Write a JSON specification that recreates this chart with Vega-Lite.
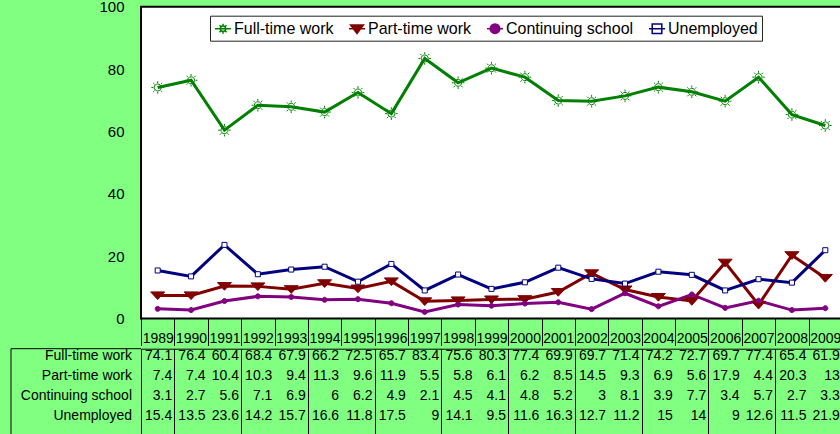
{
  "$schema": "https://vega.github.io/schema/vega-lite/v6.json",
  "background": "#80ff80",
  "padding": {"left": 9, "top": -1.3, "right": 0, "bottom": 0},
  "spacing": 0,
  "config": {
    "font": "Liberation Sans",
    "view": {"stroke": null},
    "legend": {"orient": "none", "legendX": 69, "legendY": 9, "direction": "horizontal", "columns": 4, "labelFontSize": 16, "labelColor": "black", "labelLimit": 300, "fillColor": "white", "strokeColor": "#222222", "padding": 4, "columnPadding": 12, "labelOffset": 2, "symbolSize": 256, "symbolStrokeWidth": 1.5}
  },
  "datasets": {
    "main": [
      {"year": 1989, "series": "Full-time work", "value": 74.1},
      {"year": 1990, "series": "Full-time work", "value": 76.4},
      {"year": 1991, "series": "Full-time work", "value": 60.4},
      {"year": 1992, "series": "Full-time work", "value": 68.4},
      {"year": 1993, "series": "Full-time work", "value": 67.9},
      {"year": 1994, "series": "Full-time work", "value": 66.2},
      {"year": 1995, "series": "Full-time work", "value": 72.5},
      {"year": 1996, "series": "Full-time work", "value": 65.7},
      {"year": 1997, "series": "Full-time work", "value": 83.4},
      {"year": 1998, "series": "Full-time work", "value": 75.6},
      {"year": 1999, "series": "Full-time work", "value": 80.3},
      {"year": 2000, "series": "Full-time work", "value": 77.4},
      {"year": 2001, "series": "Full-time work", "value": 69.9},
      {"year": 2002, "series": "Full-time work", "value": 69.7},
      {"year": 2003, "series": "Full-time work", "value": 71.4},
      {"year": 2004, "series": "Full-time work", "value": 74.2},
      {"year": 2005, "series": "Full-time work", "value": 72.7},
      {"year": 2006, "series": "Full-time work", "value": 69.7},
      {"year": 2007, "series": "Full-time work", "value": 77.4},
      {"year": 2008, "series": "Full-time work", "value": 65.4},
      {"year": 2009, "series": "Full-time work", "value": 61.9},
      {"year": 1989, "series": "Part-time work", "value": 7.4},
      {"year": 1990, "series": "Part-time work", "value": 7.4},
      {"year": 1991, "series": "Part-time work", "value": 10.4},
      {"year": 1992, "series": "Part-time work", "value": 10.3},
      {"year": 1993, "series": "Part-time work", "value": 9.4},
      {"year": 1994, "series": "Part-time work", "value": 11.3},
      {"year": 1995, "series": "Part-time work", "value": 9.6},
      {"year": 1996, "series": "Part-time work", "value": 11.9},
      {"year": 1997, "series": "Part-time work", "value": 5.5},
      {"year": 1998, "series": "Part-time work", "value": 5.8},
      {"year": 1999, "series": "Part-time work", "value": 6.1},
      {"year": 2000, "series": "Part-time work", "value": 6.2},
      {"year": 2001, "series": "Part-time work", "value": 8.5},
      {"year": 2002, "series": "Part-time work", "value": 14.5},
      {"year": 2003, "series": "Part-time work", "value": 9.3},
      {"year": 2004, "series": "Part-time work", "value": 6.9},
      {"year": 2005, "series": "Part-time work", "value": 5.6},
      {"year": 2006, "series": "Part-time work", "value": 17.9},
      {"year": 2007, "series": "Part-time work", "value": 4.4},
      {"year": 2008, "series": "Part-time work", "value": 20.3},
      {"year": 2009, "series": "Part-time work", "value": 13},
      {"year": 1989, "series": "Continuing school", "value": 3.1},
      {"year": 1990, "series": "Continuing school", "value": 2.7},
      {"year": 1991, "series": "Continuing school", "value": 5.6},
      {"year": 1992, "series": "Continuing school", "value": 7.1},
      {"year": 1993, "series": "Continuing school", "value": 6.9},
      {"year": 1994, "series": "Continuing school", "value": 6},
      {"year": 1995, "series": "Continuing school", "value": 6.2},
      {"year": 1996, "series": "Continuing school", "value": 4.9},
      {"year": 1997, "series": "Continuing school", "value": 2.1},
      {"year": 1998, "series": "Continuing school", "value": 4.5},
      {"year": 1999, "series": "Continuing school", "value": 4.1},
      {"year": 2000, "series": "Continuing school", "value": 4.8},
      {"year": 2001, "series": "Continuing school", "value": 5.2},
      {"year": 2002, "series": "Continuing school", "value": 3},
      {"year": 2003, "series": "Continuing school", "value": 8.1},
      {"year": 2004, "series": "Continuing school", "value": 3.9},
      {"year": 2005, "series": "Continuing school", "value": 7.7},
      {"year": 2006, "series": "Continuing school", "value": 3.4},
      {"year": 2007, "series": "Continuing school", "value": 5.7},
      {"year": 2008, "series": "Continuing school", "value": 2.7},
      {"year": 2009, "series": "Continuing school", "value": 3.3},
      {"year": 1989, "series": "Unemployed", "value": 15.4},
      {"year": 1990, "series": "Unemployed", "value": 13.5},
      {"year": 1991, "series": "Unemployed", "value": 23.6},
      {"year": 1992, "series": "Unemployed", "value": 14.2},
      {"year": 1993, "series": "Unemployed", "value": 15.7},
      {"year": 1994, "series": "Unemployed", "value": 16.6},
      {"year": 1995, "series": "Unemployed", "value": 11.8},
      {"year": 1996, "series": "Unemployed", "value": 17.5},
      {"year": 1997, "series": "Unemployed", "value": 9},
      {"year": 1998, "series": "Unemployed", "value": 14.1},
      {"year": 1999, "series": "Unemployed", "value": 9.5},
      {"year": 2000, "series": "Unemployed", "value": 11.6},
      {"year": 2001, "series": "Unemployed", "value": 16.3},
      {"year": 2002, "series": "Unemployed", "value": 12.7},
      {"year": 2003, "series": "Unemployed", "value": 11.2},
      {"year": 2004, "series": "Unemployed", "value": 15},
      {"year": 2005, "series": "Unemployed", "value": 14},
      {"year": 2006, "series": "Unemployed", "value": 9},
      {"year": 2007, "series": "Unemployed", "value": 12.6},
      {"year": 2008, "series": "Unemployed", "value": 11.5},
      {"year": 2009, "series": "Unemployed", "value": 21.9}
    ]
  },
  "vconcat": [
    {
      "width": 701,
      "height": 311.8,
      "view": {"fill": "white", "stroke": "black", "strokeWidth": 2},
      "data": {"name": "main"},
      "encoding": {
        "x": {
          "field": "year", "type": "ordinal",
          "scale": {"type": "band", "paddingInner": 0, "paddingOuter": 0},
          "axis": {"title": null, "labelFontSize": 14, "labelColor": "black", "labelPadding": -7, "labelBaseline": "middle", "labelAngle": 0, "labelOverlap": false, "ticks": true, "tickBand": "extent", "tickSize": 27, "tickColor": "black", "tickWidth": 1, "domain": false, "grid": false}
        },
        "y": {
          "field": "value", "type": "quantitative",
          "scale": {"domain": [0, 100], "nice": false, "zero": true},
          "axis": {"title": null, "values": [0, 20, 40, 60, 80, 100], "labelFontSize": 15, "labelColor": "black", "ticks": false, "tickSize": 0, "domain": false, "grid": false, "labelPadding": 17, "minExtent": 130}
        }
      },
      "layer": [
        {
          "mark": {"type": "line", "strokeWidth": 3},
          "encoding": {
            "stroke": {
              "field": "series", "type": "nominal",
              "scale": {"domain": ["Full-time work", "Part-time work", "Continuing school", "Unemployed"], "range": ["#008000", "#800000", "#800080", "#000080"]},
              "legend": {"title": null,
                "encode": {"symbols": {"update": {"size": {"value": 256}, "strokeWidth": {"value": 1.5}, "opacity": {"value": 1}, "shape": {"signal": "datum.value === 'Full-time work' ? 'M-1,0H1M-0.33,0A0.33,0.33 0 1,1 0.33,0A0.33,0.33 0 1,1 -0.33,0ZM0,-0.42V-0.62M0,0.42V0.62M0.3,0.3L0.44,0.44M-0.3,-0.3L-0.44,-0.44M0.3,-0.3L0.44,-0.44M-0.3,0.3L-0.44,0.44' : datum.value === 'Part-time work' ? 'M-1,0H1M-0.8,-0.45H0.8L0,0.6Z' : datum.value === 'Continuing school' ? 'M-1,0H1M-0.6,0A0.6,0.6 0 1,1 0.6,0A0.6,0.6 0 1,1 -0.6,0Z' : 'M-1,0H1M-0.6,-0.6H0.6V0.6H-0.6Z'"}}}}
              }
            }
          }
        },
        {
          "mark": {"type": "point", "size": 196, "strokeWidth": 1, "opacity": 1},
          "encoding": {
            "stroke": {"field": "series", "type": "nominal"},
            "fill": {
              "field": "series", "type": "nominal",
              "scale": {"domain": ["Full-time work", "Part-time work", "Continuing school", "Unemployed"], "range": ["transparent", "#800000", "#800080", "#ffffff"]},
              "legend": {"title": null,
                "encode": {"symbols": {"update": {"size": {"value": 256}, "strokeWidth": {"value": 1.5}, "opacity": {"value": 1}, "shape": {"signal": "datum.value === 'Full-time work' ? 'M-1,0H1M-0.33,0A0.33,0.33 0 1,1 0.33,0A0.33,0.33 0 1,1 -0.33,0ZM0,-0.42V-0.62M0,0.42V0.62M0.3,0.3L0.44,0.44M-0.3,-0.3L-0.44,-0.44M0.3,-0.3L0.44,-0.44M-0.3,0.3L-0.44,0.44' : datum.value === 'Part-time work' ? 'M-1,0H1M-0.8,-0.45H0.8L0,0.6Z' : datum.value === 'Continuing school' ? 'M-1,0H1M-0.6,0A0.6,0.6 0 1,1 0.6,0A0.6,0.6 0 1,1 -0.6,0Z' : 'M-1,0H1M-0.6,-0.6H0.6V0.6H-0.6Z'"}}}}
              }
            },
            "shape": {
              "field": "series", "type": "nominal",
              "sort": ["Full-time work", "Part-time work", "Continuing school", "Unemployed"],
              "scale": {"range": [
                "M-0.5,0A0.5,0.5 0 1,1 0.5,0A0.5,0.5 0 1,1 -0.5,0ZM0,-0.62V-0.9M0,0.62V0.9M-0.62,0H-0.9M0.62,0H0.9M0.44,0.44L0.64,0.64M-0.44,-0.44L-0.64,-0.64M0.44,-0.44L0.64,-0.64M-0.44,0.44L-0.64,0.64",
                "M-1,-0.5H1L0,0.6Z",
                "M-0.36,0A0.36,0.36 0 1,1 0.36,0A0.36,0.36 0 1,1 -0.36,0Z",
                "M-0.36,-0.36H0.36V0.36H-0.36Z"
              ]},
              "legend": null
            }
          }
        },
        {
          "data": {"values": [{"label": "N=215"}]},
          "mark": {"type": "point", "shape": "M-1,-0.347H1V0.347H-1Z", "size": 5625, "filled": true, "fill": "#e3e3e3", "stroke": "black", "strokeWidth": 1, "opacity": 1},
          "encoding": {"x": {"datum": 2008, "bandPosition": 0.79}, "y": {"datum": 45.7}}
        },
        {
          "data": {"values": [{"label": "N=215"}]},
          "mark": {"type": "text", "fontSize": 16, "dx": 4, "color": "black", "baseline": "middle"},
          "encoding": {"x": {"datum": 2008, "bandPosition": 0.79}, "y": {"datum": 45.7}, "text": {"field": "label"}}
        }
      ]
    },
    {
      "width": 701,
      "height": 88,
      "view": {"stroke": "black", "strokeWidth": 1, "fill": null},
      "resolve": {"scale": {"y": "independent"}},
      "layer": [
        {
          "data": {"name": "main"},
          "mark": {"type": "text", "align": "right", "baseline": "middle", "dx": 14.5, "fontSize": 14, "color": "black"},
          "encoding": {
            "x": {
              "field": "year", "type": "quantitative",
              "scale": {"domain": [1988.5, 2009.5], "nice": false, "zero": false},
              "axis": {"title": null, "values": [1989.5, 1990.5, 1991.5, 1992.5, 1993.5, 1994.5, 1995.5, 1996.5, 1997.5, 1998.5, 1999.5, 2000.5, 2001.5, 2002.5, 2003.5, 2004.5, 2005.5, 2006.5, 2007.5, 2008.5], "grid": true, "gridColor": "black", "gridOpacity": 1, "gridWidth": 1, "labels": false, "ticks": false, "domain": false}
            },
            "y": {
              "field": "series", "type": "nominal",
              "scale": {"type": "point", "domain": ["Full-time work", "Part-time work", "Continuing school", "Unemployed"], "padding": 0.7, "align": 0.25},
              "axis": null
            },
            "text": {"field": "value", "type": "nominal"}
          }
        },
        {
          "data": {"values": [{"series": "Full-time work"}, {"series": "Part-time work"}, {"series": "Continuing school"}, {"series": "Unemployed"}]},
          "mark": {"type": "text", "align": "right", "baseline": "middle", "dx": -9, "fontSize": 14, "color": "black"},
          "encoding": {
            "x": {"datum": 1988.5},
            "y": {
              "field": "series", "type": "nominal",
              "scale": {"type": "point", "domain": ["Full-time work", "Part-time work", "Continuing school", "Unemployed"], "padding": 0.7, "align": 0.25},
              "axis": null
            },
            "text": {"field": "series", "type": "nominal"}
          }
        },
        {
          "data": {"values": [{"edge": "top"}]},
          "mark": {"type": "rule", "color": "black", "strokeWidth": 1},
          "encoding": {
            "x": {"datum": 1984.605}, "x2": {"datum": 1988.5},
            "y": {"datum": 1, "type": "quantitative", "scale": {"domain": [0, 1], "nice": false}, "axis": null}
          }
        },
        {
          "data": {"values": [{"edge": "bottom"}]},
          "mark": {"type": "rule", "color": "black", "strokeWidth": 1},
          "encoding": {
            "x": {"datum": 1984.605}, "x2": {"datum": 1988.5},
            "y": {"datum": 0, "type": "quantitative", "scale": {"domain": [0, 1], "nice": false}, "axis": null}
          }
        },
        {
          "data": {"values": [{"edge": "left"}]},
          "mark": {"type": "rule", "color": "black", "strokeWidth": 1},
          "encoding": {
            "x": {"datum": 1984.605},
            "y": {"datum": 0, "type": "quantitative", "scale": {"domain": [0, 1], "nice": false}, "axis": null},
            "y2": {"datum": 1}
          }
        }
      ]
    }
  ]
}
